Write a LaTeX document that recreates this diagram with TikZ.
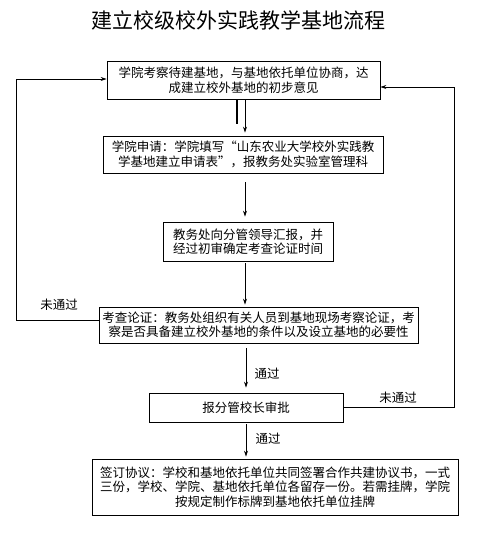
\documentclass[tikz,border=0pt]{standalone}
\usepackage{fontspec}
\newfontfamily\cjk{Noto Sans CJK SC}
\usetikzlibrary{arrows.meta}
\tikzset{
    stepbox/.style={
        draw, line width=.8pt, rectangle, align=center, inner sep=0pt,
        font=\cjk\fontsize{12.5}{14.5}\selectfont
    },
    arr/.style={line width=.8pt, -{Stealth[length=6pt,width=4pt]}},
    lbl/.style={font=\cjk\fontsize{12.5}{14.5}\selectfont}
}

\begin{document}
\begin{tikzpicture}[x=1pt,y=-1pt]
        \useasboundingbox (0,0) rectangle (478,538);
        \node[font=\cjk\fontsize{21}{24}\selectfont] (title) at (238,20) {建立校级校外实践教学基地流程};
        \node[stepbox, minimum width=273pt, minimum height=38pt] (kaocha) at (243.5,80)
        {学院考察待建基地，与基地依托单位协商，达\\成建立校外基地的初步意见};
        \node[stepbox, minimum width=280pt, minimum height=37pt] (shenqing) at (243,154.5)
        {学院申请：学院填写“山东农业大学校外实践教\\学基地建立申请表”，报教务处实验室管理科};
        \node[stepbox, minimum width=170pt, minimum height=39pt] (huibao) at (248,241.5)
        {教务处向分管领导汇报，并\\经过初审确定考查论证时间};
        \node[stepbox, minimum width=319pt, minimum height=36pt] (lunzheng) at (258.5,325)
        {考查论证：教务处组织有关人员到基地现场考察论证，考\\察是否具备建立校外基地的条件以及设立基地的必要性};
        \node[stepbox, minimum width=194pt, minimum height=29pt] (shenpi) at (246,407.5)
        {报分管校长审批};
        \node[stepbox, minimum width=366pt, minimum height=56pt] (xieyi) at (275,487)
        {签订协议：学校和基地依托单位共同签署合作共建协议书，一式\\三份，学校、学院、基地依托单位各留存一份。若需挂牌，学院\\按规定制作标牌到基地依托单位挂牌};
        % main flow
        \draw[line width=1.6pt] ([xshift=-6.5pt]kaocha.south) -- ++(0,25);
        \draw[arr, shorten >=3pt] ([xshift=1.5pt]kaocha.south) -- ([xshift=1.5pt]kaocha.south |- shenqing.north);
        \draw[arr, shorten <=9pt, shorten >=5pt] ([xshift=2pt]shenqing.south) -- ([xshift=2pt]shenqing.south |- huibao.north);
        \draw[arr, shorten <=2pt, shorten >=2pt] ([xshift=-3pt]huibao.south) -- ([xshift=-3pt]huibao.south |- lunzheng.north);
        \draw[arr, shorten <=5pt, shorten >=5pt] (shenpi.north |- lunzheng.south) -- (shenpi.north)
            node[lbl, midway, right=5pt, yshift=-6pt] (tongguo1) {通过};
        \draw[arr, shorten <=2pt, shorten >=2pt] (shenpi.south) -- (shenpi.south |- xieyi.north)
            node[lbl, midway, right=6pt, yshift=2pt] (tongguo2) {通过};
        % loops back
        \draw[arr] ([yshift=5pt]lunzheng.west) -- ++(-82,0) |- ([yshift=1pt]kaocha.west);
        \node[lbl] (weitg1) at (59,305) {未通过};
        \draw[arr] (shenpi.east) -- ++(111,0) |- ([yshift=-7pt]kaocha.east);
        \node[lbl] (weitg2) at (398,398) {未通过};
    \end{tikzpicture}
\end{document}
